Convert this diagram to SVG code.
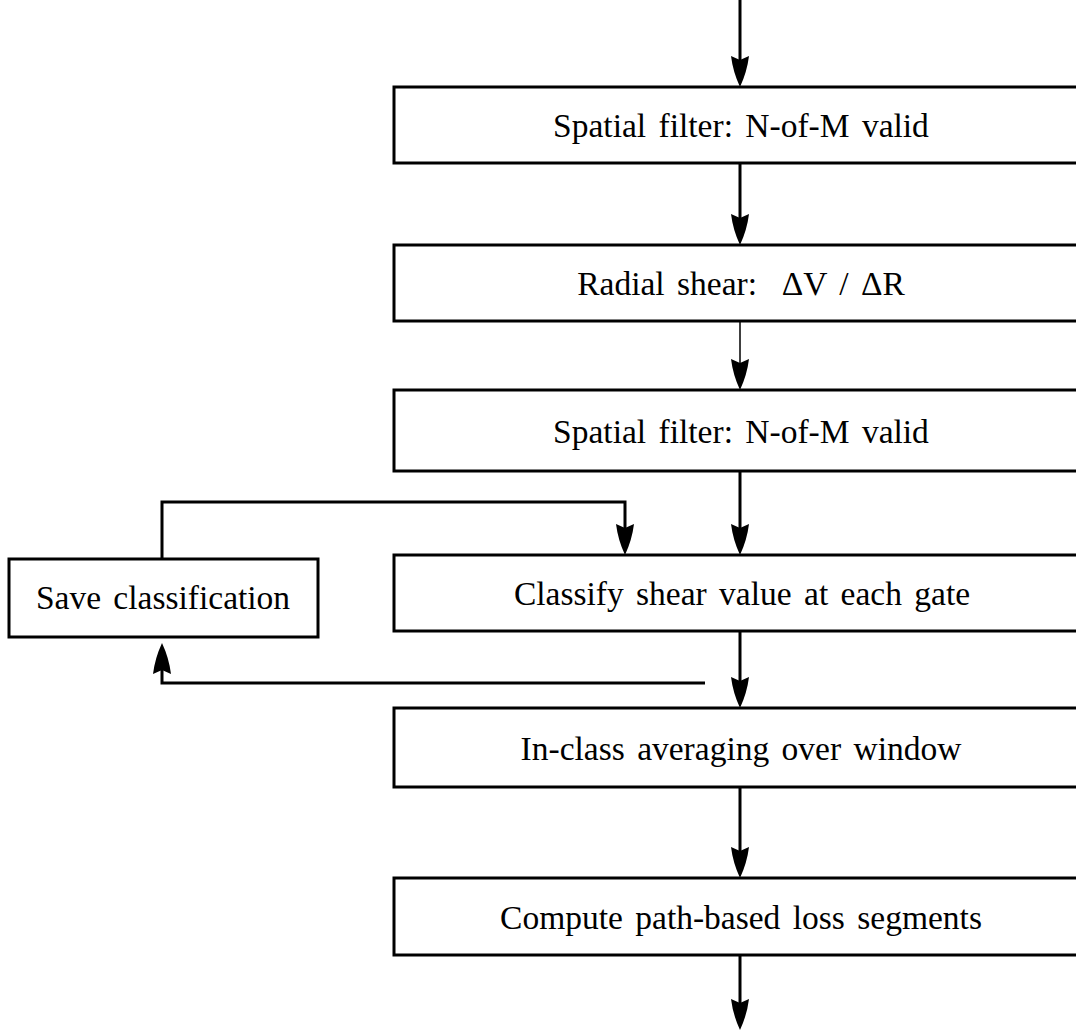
<svg xmlns="http://www.w3.org/2000/svg" width="1076" height="1035" viewBox="0 0 1076 1035">
<style>
.box{fill:#fff;stroke:#000;stroke-width:3}
.lbl{font-family:"Liberation Serif","Times New Roman",serif;font-size:33.5px;fill:#000;text-anchor:middle;word-spacing:4px}
.conn{fill:none;stroke:#000;stroke-width:3}
.thin{stroke-width:1.5}
</style>
<defs>
<marker id="ah" viewBox="-33 -10 34 20" refX="-10" refY="0" markerWidth="34" markerHeight="20" markerUnits="userSpaceOnUse" orient="auto">
<path d="M0,0 Q-15,-7 -31,-9 L-27,0 L-31,9 Q-15,7 0,0 z" fill="#000"/>
</marker>
</defs>
<rect width="1076" height="1035" fill="#fff"/>
<g id="n1"><rect class="box" x="394" y="87" width="700" height="76"/><text class="lbl" x="741" y="137">Spatial filter: N-of-M valid</text></g>
<g id="n2"><rect class="box" x="394" y="245" width="700" height="76"/><text class="lbl" x="741" y="295" xml:space="preserve">Radial shear:  ΔV / ΔR</text></g>
<g id="n3"><rect class="box" x="394" y="390" width="700" height="81"/><text class="lbl" x="741" y="443">Spatial filter: N-of-M valid</text></g>
<g id="n4"><rect class="box" x="394" y="555" width="700" height="76"/><text class="lbl" x="742" y="605">Classify shear value at each gate</text></g>
<g id="n5"><rect class="box" x="9" y="559" width="309" height="78"/><text class="lbl" x="163" y="609">Save classification</text></g>
<g id="n6"><rect class="box" x="394" y="708" width="700" height="79"/><text class="lbl" x="741" y="760">In-class averaging over window</text></g>
<g id="n7"><rect class="box" x="394" y="878" width="700" height="77"/><text class="lbl" x="741" y="929">Compute path-based loss segments</text></g>
<g id="connectors">
<path class="conn" d="M740,0 V77" marker-end="url(#ah)"/>
<path class="conn" d="M740,163 V235" marker-end="url(#ah)"/>
<path class="conn thin" d="M740,321 V380" marker-end="url(#ah)"/>
<path class="conn" d="M740,471 V545" marker-end="url(#ah)"/>
<path class="conn" d="M162,559 V502 H625 V545" marker-end="url(#ah)"/>
<path class="conn" d="M740,631 V698" marker-end="url(#ah)"/>
<path class="conn" d="M705,683 H162 V653" marker-end="url(#ah)"/>
<path class="conn" d="M740,787 V868" marker-end="url(#ah)"/>
<path class="conn" d="M740,955 V1020" marker-end="url(#ah)"/>
</g>
</svg>
